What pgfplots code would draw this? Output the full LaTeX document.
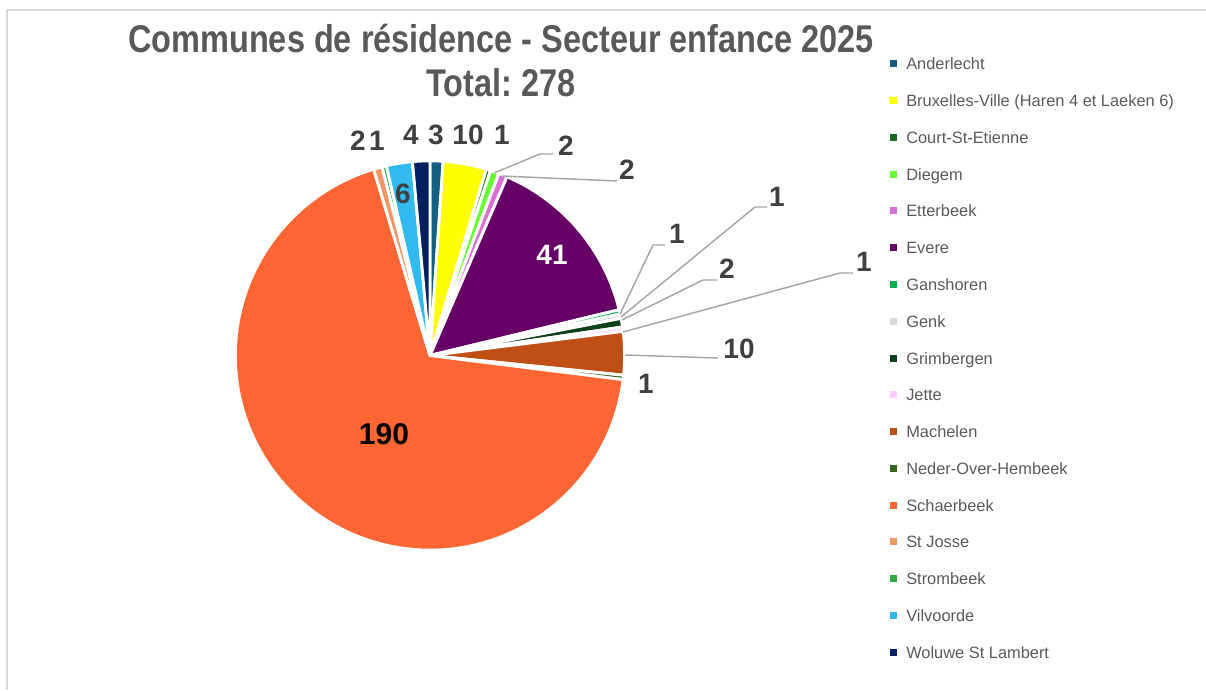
\documentclass[border=0pt]{standalone}
\usepackage{fontspec}
\setmainfont{Liberation Sans}
\newfontfamily\titlefont[FakeStretch=0.84]{Liberation Sans}
\usepackage{pgfplots}
\usepackage{pgfplotstable}
\pgfplotsset{compat=1.18}
\frenchspacing

\definecolor{titlegrey}{RGB}{89,89,89}
\definecolor{labgrey}{RGB}{64,64,64}
\definecolor{leadgrey}{RGB}{166,166,166}
\definecolor{framegrey}{RGB}{217,217,217}
\definecolor{c0}{RGB}{21,96,130}
\definecolor{c1}{RGB}{255,255,0}
\definecolor{c2}{RGB}{25,107,36}
\definecolor{c3}{RGB}{102,255,51}
\definecolor{c4}{RGB}{218,112,214}
\definecolor{c5}{RGB}{102,0,102}
\definecolor{c6}{RGB}{0,176,80}
\definecolor{c7}{RGB}{217,217,217}
\definecolor{c8}{RGB}{14,64,26}
\definecolor{c9}{RGB}{255,204,255}
\definecolor{c10}{RGB}{192,79,21}
\definecolor{c11}{RGB}{51,102,30}
\definecolor{c12}{RGB}{255,102,51}
\definecolor{c13}{RGB}{240,150,100}
\definecolor{c14}{RGB}{51,170,64}
\definecolor{c15}{RGB}{48,186,240}
\definecolor{c16}{RGB}{0,32,96}

% one row per commune: centre of the pie (px), start (cumulative count), count, colour index
\pgfplotstableread{
name x y s v i
Anderlecht 430 355.5 0 3 0
Bruxelles 430 355.5 3 10 1
CourtStEtienne 430 355.5 13 1 2
Diegem 430 355.5 14 2 3
Etterbeek 430 355.5 16 2 4
Evere 430 355.5 18 41 5
Ganshoren 430 355.5 59 1 6
Genk 430 355.5 60 1 7
Grimbergen 430 355.5 61 2 8
Jette 430 355.5 63 1 9
Machelen 430 355.5 64 10 10
NederOverHembeek 430 355.5 74 1 11
Schaerbeek 430 355.5 75 190 12
StJosse 430 355.5 265 2 13
Strombeek 430 355.5 267 1 14
Vilvoorde 430 355.5 268 6 15
WoluweStLambert 430 355.5 274 4 16
}\slices

\newcommand\lab[3]{\node[font=\bfseries\fontsize{21}{22}\selectfont, text=#3, inner sep=0pt] at (axis cs:#1) {#2};}
\newcommand\leg[3]{%
  \fill[#3] (axis cs:890,#1-3.5) rectangle (axis cs:897,#1+3.5);
  \node[font=\fontsize{12.3}{14}\selectfont, text=titlegrey, anchor=base west, inner sep=0pt] at (axis cs:906,#1+6) {#2};}

\begin{document}
\begin{tikzpicture}
\begin{axis}[
  set layers,
  scale only axis, width=904.5pt, height=517.5pt,
  xmin=0, xmax=1206, ymin=0, ymax=690, y dir=reverse,
  hide axis, clip=false,
]
\addplot[scatter, only marks, mark=*, mark size=0pt, mark options={draw=none, fill=none},
  visualization depends on={\thisrow{s}\as\sv},
  visualization depends on={\thisrow{v}\as\vv},
  visualization depends on={\thisrow{i}\as\iv},
  scatter/@pre marker code/.code={%
    \pgfmathsetmacro\degper{360/278}%
    \pgfmathsetmacro\angA{90-\sv*\degper}%
    \pgfmathsetmacro\angB{\angA-\vv*\degper}%
    \pgfmathsetmacro\angM{(\angA+\angB)/2}%
    \pgfmathtruncatemacro\ci{\iv}%
    \fill[fill=c\ci, draw=white, line width=2.2pt, line join=round, shift={(\angM:3.5pt)}]
      (0,0) -- (\angA:146pt) arc[start angle=\angA, end angle=\angB, radius=146pt] -- cycle;
  },
  scatter/@post marker code/.code={},
] table[x=x, y=y] {\slices};

\begin{pgfonlayer}{axis foreground}
% frame
\draw[framegrey, line width=0.9pt] (axis cs:7,690) -- (axis cs:7,10) -- (axis cs:1206,10);
\coordinate (tl) at (axis cs:0,0);
\coordinate (br) at (axis cs:1206,690);

% title
\node[font=\titlefont\bfseries\fontsize{29}{30}\selectfont, text=titlegrey, anchor=base, inner sep=0pt]
  at (axis cs:501,53) {Communes de résidence - Secteur enfance 2025};
\node[font=\titlefont\bfseries\fontsize{29}{30}\selectfont, text=titlegrey, anchor=base, inner sep=0pt]
  at (axis cs:501,97) {Total: 278};

% leader lines
\begin{scope}[leadgrey, line width=1.1pt]
\draw (axis cs:494,173) -- (axis cs:540,154) -- (axis cs:553,154);
\draw (axis cs:502,176) -- (axis cs:617,181);
\draw (axis cs:620,314) -- (axis cs:653,245) -- (axis cs:665,245);
\draw (axis cs:621,317) -- (axis cs:755,207) -- (axis cs:767,207);
\draw (axis cs:622,320) -- (axis cs:703,280) -- (axis cs:717,280);
\draw (axis cs:623,332) -- (axis cs:840,273) -- (axis cs:853,273);
\draw (axis cs:625,355) -- (axis cs:718,358);
\end{scope}

% data labels
\lab{358,141}{2}{labgrey}
\lab{377,141}{1}{labgrey}
\lab{403,194}{6}{labgrey}
\lab{411,135}{4}{labgrey}
\lab{436,135}{3}{labgrey}
\lab{468,135}{10}{labgrey}
\lab{502,135}{1}{labgrey}
\lab{566,146}{2}{labgrey}
\lab{627,170}{2}{labgrey}
\lab{552,255}{41}{white}
\lab{677,234}{1}{labgrey}
\lab{777,197}{1}{labgrey}
\lab{727,269}{2}{labgrey}
\lab{864,262}{1}{labgrey}
\lab{739,349}{10}{labgrey}
\lab{646,384}{1}{labgrey}
\node[font=\bfseries\fontsize{22.5}{23}\selectfont, text=black, inner sep=0pt] at (axis cs:384,434) {190};

% legend
\leg{64}{Anderlecht}{c0}
\leg{100.75}{Bruxelles-Ville (Haren 4 et Laeken 6)}{c1}
\leg{137.5}{Court-St-Etienne}{c2}
\leg{174.25}{Diegem}{c3}
\leg{211}{Etterbeek}{c4}
\leg{247.75}{Evere}{c5}
\leg{284.5}{Ganshoren}{c6}
\leg{321.25}{Genk}{c7}
\leg{358}{Grimbergen}{c8}
\leg{394.75}{Jette}{c9}
\leg{431.5}{Machelen}{c10}
\leg{468.25}{Neder-Over-Hembeek}{c11}
\leg{505}{Schaerbeek}{c12}
\leg{541.75}{St Josse}{c13}
\leg{578.5}{Strombeek}{c14}
\leg{615.25}{Vilvoorde}{c15}
\leg{652}{Woluwe St Lambert}{c16}
\end{pgfonlayer}
\end{axis}
\pgfresetboundingbox
\path (tl) rectangle (br);
\end{tikzpicture}
\end{document}
